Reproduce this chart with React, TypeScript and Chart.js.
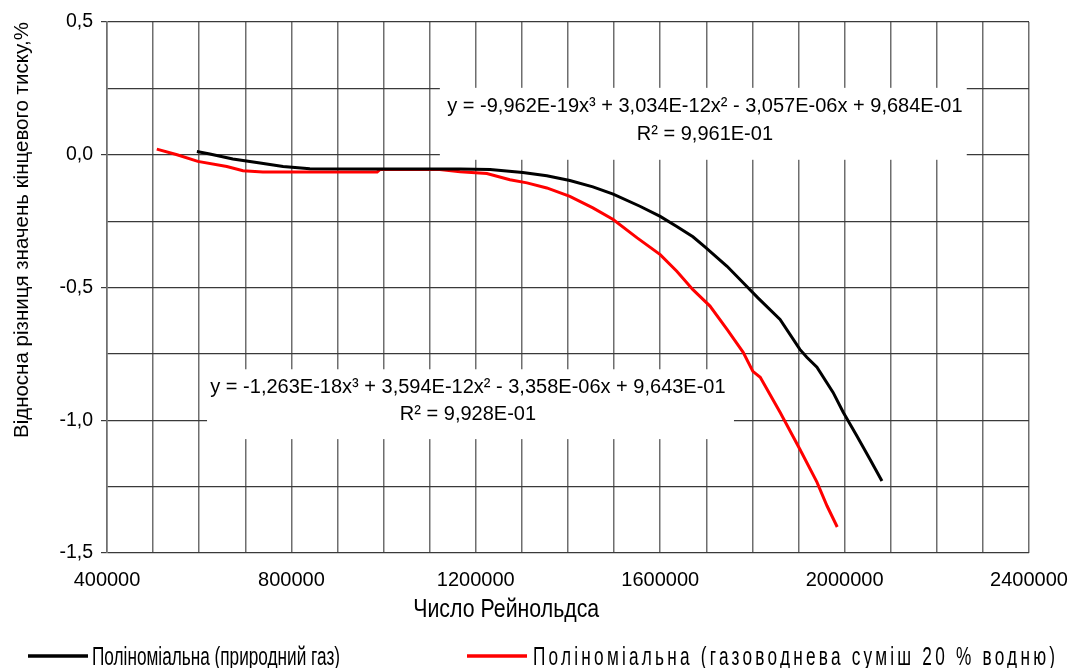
import React, { useEffect, useRef } from 'react';
import { Chart, registerables } from 'chart.js';

Chart.register(...registerables);

// ---- data ----
const gasRe = [595000, 623000, 673000, 732000, 782000, 840000, 992000, 1166000, 1231000, 1302000, 1354000, 1404000, 1454000, 1498000, 1556000, 1600000, 1636000, 1671000, 1697000, 1745000, 1780000, 1812000, 1860000, 1903000, 1918000, 1940000, 1975000, 1997000, 2027000, 2055000, 2081000];
const gasVal = [0.012, 0.003, -0.016, -0.031, -0.044, -0.053, -0.054, -0.054, -0.056, -0.067, -0.079, -0.097, -0.121, -0.148, -0.194, -0.232, -0.270, -0.309, -0.347, -0.420, -0.482, -0.539, -0.620, -0.733, -0.763, -0.800, -0.895, -0.970, -1.060, -1.147, -1.229];
const mixRe = [508000, 552000, 597000, 660000, 695000, 738000, 986000, 992000, 1122000, 1166000, 1224000, 1274000, 1311000, 1354000, 1404000, 1454000, 1498000, 1550000, 1600000, 1636000, 1671000, 1708000, 1745000, 1780000, 1801000, 1817000, 1860000, 1903000, 1940000, 1962000, 1984000];
const mixVal = [0.021, 0.0, -0.025, -0.044, -0.060, -0.065, -0.065, -0.056, -0.056, -0.064, -0.071, -0.094, -0.106, -0.125, -0.157, -0.200, -0.244, -0.313, -0.376, -0.439, -0.508, -0.570, -0.658, -0.744, -0.816, -0.838, -0.970, -1.109, -1.233, -1.323, -1.402];

const seriesLabels = ['Поліноміальна (природний газ)', 'Поліноміальна (газоводнева суміш 20 % водню)'];
const xTitle = 'Число Рейнольдса';
const yTitle = 'Відносна різниця значень кінцевого тиску,%';
const gasEquation = ['y = -9,962E-19x³ + 3,034E-12x² - 3,057E-06x + 9,684E-01', 'R² = 9,961E-01'];
const mixEquation = ['y = -1,263E-18x³ + 3,594E-12x² - 3,358E-06x + 9,643E-01', 'R² = 9,928E-01'];

const xMin = 400000;
const xMax = 2400000;
const xGridStep = 100000;
const xLabelStep = 400000;
const yMin = -1.5;
const yMax = 0.5;
const yGridStep = 0.25;
const yLabelStep = 0.5;

// ---- layout / style ----
const FONT = "'Liberation Sans', Arial, sans-serif";
const COLORS = ['#000000', '#ff0000'];

// annotation boxes in data units: [xFrom, xTo, yTop, yBottom], text centre x, text line y values
const ANNOTATIONS = [
  { lines: gasEquation, box: [1122000, 2265000, 0.252, -0.019], cx: 1697000, ly: [0.18, 0.075] },
  { lines: mixEquation, box: [617000, 1760000, -0.808, -1.071], cx: 1183000, ly: [-0.876, -0.977] },
];

// legend item layout (pixels): sample start x, text start x, text target width
const LEGEND_ITEMS = [
  { x: 28, tx: 92, w: 248 },
  { x: 467, tx: 533, w: 522 },
];
const LEGEND_FONT_SIZE = 26;
const X_TITLE_FONT_SIZE = 25;
const X_TITLE_WIDTH = 186;

const isMultiple = (v: number, step: number) => Math.abs(v / step - Math.round(v / step)) < 1e-6;

const annotationPlugin = {
  id: 'equationBoxes',
  beforeDatasetsDraw(chart: any) {
    const { ctx, scales } = chart;
    const xs = scales.x;
    const ys = scales.y;
    ctx.save();
    ANNOTATIONS.forEach((a) => {
      const x1 = xs.getPixelForValue(a.box[0]);
      const x2 = xs.getPixelForValue(a.box[1]);
      const y1 = ys.getPixelForValue(a.box[2]);
      const y2 = ys.getPixelForValue(a.box[3]);
      ctx.fillStyle = '#ffffff';
      ctx.fillRect(x1, y1, x2 - x1, y2 - y1);
      ctx.fillStyle = '#000000';
      ctx.font = `20px ${FONT}`;
      ctx.textAlign = 'center';
      ctx.textBaseline = 'middle';
      a.lines.forEach((t, i) => {
        ctx.fillText(t, xs.getPixelForValue(a.cx), ys.getPixelForValue(a.ly[i]));
      });
    });
    ctx.restore();
  },
};

const legendTitlePlugin = {
  id: 'legendAndXTitle',
  afterDraw(chart: any) {
    const { ctx, chartArea } = chart;
    ctx.save();
    // x axis title (condensed face)
    ctx.fillStyle = '#000000';
    ctx.font = `${X_TITLE_FONT_SIZE}px ${FONT}`;
    ctx.textAlign = 'left';
    ctx.textBaseline = 'middle';
    const tw = ctx.measureText(xTitle).width;
    const tsx = X_TITLE_WIDTH / tw;
    const titleCx = chartArea.left + (chartArea.right - chartArea.left) * 0.433;
    ctx.save();
    ctx.translate(titleCx - X_TITLE_WIDTH / 2, chartArea.bottom + 57);
    ctx.scale(tsx, 1);
    ctx.fillText(xTitle, 0, 0);
    ctx.restore();

    // legend (condensed face, sitting at the bottom edge of the picture as in the source)
    ctx.font = `${LEGEND_FONT_SIZE}px ${FONT}`;
    ctx.textBaseline = 'alphabetic';
    const firstW = ctx.measureText(seriesLabels[0]).width;
    const sx = LEGEND_ITEMS[0].w / firstW;
    const lineY = 656;
    const baseY = 665;
    seriesLabels.forEach((label, i) => {
      const item = LEGEND_ITEMS[i];
      ctx.strokeStyle = COLORS[i];
      ctx.lineWidth = 3.5;
      ctx.beginPath();
      ctx.moveTo(item.x, lineY);
      ctx.lineTo(item.x + 60, lineY);
      ctx.stroke();
      const natural = ctx.measureText(label).width;
      const extra = Math.max(0, item.w / sx - natural) / Math.max(1, label.length - 1);
      ctx.save();
      ctx.translate(item.tx, baseY);
      ctx.scale(sx, 1);
      ctx.fillStyle = '#000000';
      (ctx as any).letterSpacing = `${extra}px`;
      ctx.fillText(label, 0, 0);
      ctx.restore();
    });
    ctx.restore();
  },
};

export default function App() {
  const canvasRef = useRef<HTMLCanvasElement | null>(null);

  useEffect(() => {
    if (!canvasRef.current) return;
    const chart = new Chart(canvasRef.current, {
      type: 'line',
      data: {
        datasets: [
          {
            label: seriesLabels[0],
            data: gasRe.map((r, i) => ({ x: r, y: gasVal[i] })),
            borderColor: COLORS[0],
            backgroundColor: COLORS[0],
            borderWidth: 3,
            pointRadius: 0,
            tension: 0,
          },
          {
            label: seriesLabels[1],
            data: mixRe.map((r, i) => ({ x: r, y: mixVal[i] })),
            borderColor: COLORS[1],
            backgroundColor: COLORS[1],
            borderWidth: 3,
            pointRadius: 0,
            tension: 0,
          },
        ],
      },
      options: {
        animation: false,
        responsive: true,
        maintainAspectRatio: false,
        layout: { padding: { top: 22, right: 40, bottom: 0, left: 0 } },
        plugins: {
          legend: { display: false },
          tooltip: { enabled: false },
        },
        scales: {
          x: {
            type: 'linear',
            min: xMin,
            max: xMax,
            afterFit: (s: any) => { s.height = 115; s.paddingRight = 0; s.paddingLeft = 0; },
            ticks: {
              stepSize: xGridStep,
              autoSkip: false,
              maxRotation: 0,
              padding: 15,
              color: '#000000',
              font: { family: FONT, size: 20 },
              callback: (v: any) => (isMultiple(Number(v), xLabelStep) ? String(v) : ''),
            },
            grid: {
              color: '#6e6e6e',
              lineWidth: 1.5,
              drawTicks: false,
            },
            border: { display: false },
          },
          y: {
            type: 'linear',
            min: yMin,
            max: yMax,
            afterFit: (s: any) => { s.width = 107; s.paddingTop = 0; s.paddingBottom = 0; },
            ticks: {
              stepSize: yGridStep,
              padding: 8,
              color: '#000000',
              font: { family: FONT, size: 19.5 },
              callback: (v: any) => (isMultiple(Number(v), yLabelStep) ? Number(v).toFixed(1).replace('.', ',') : ''),
            },
            grid: {
              color: '#3a3a3a',
              lineWidth: 1.2,
              tickLength: 6,
              tickColor: (c: any) => (c.tick && isMultiple(c.tick.value, yLabelStep) ? '#3a3a3a' : 'rgba(0,0,0,0)'),
            },
            border: { display: true, color: '#6e6e6e', width: 1.5 },
            title: {
              display: true,
              text: yTitle,
              align: 'end',
              color: '#000000',
              font: { family: FONT, size: 20.5 },
              padding: { top: 10, bottom: 0 },
            },
          },
        },
      },
      plugins: [annotationPlugin, legendTitlePlugin],
    } as any);
    return () => chart.destroy();
  }, []);

  return (
    <div style={{ position: 'fixed', left: 0, top: 0, width: 1069, height: 668, background: '#ffffff' }}>
      <canvas ref={canvasRef} />
    </div>
  );
}
